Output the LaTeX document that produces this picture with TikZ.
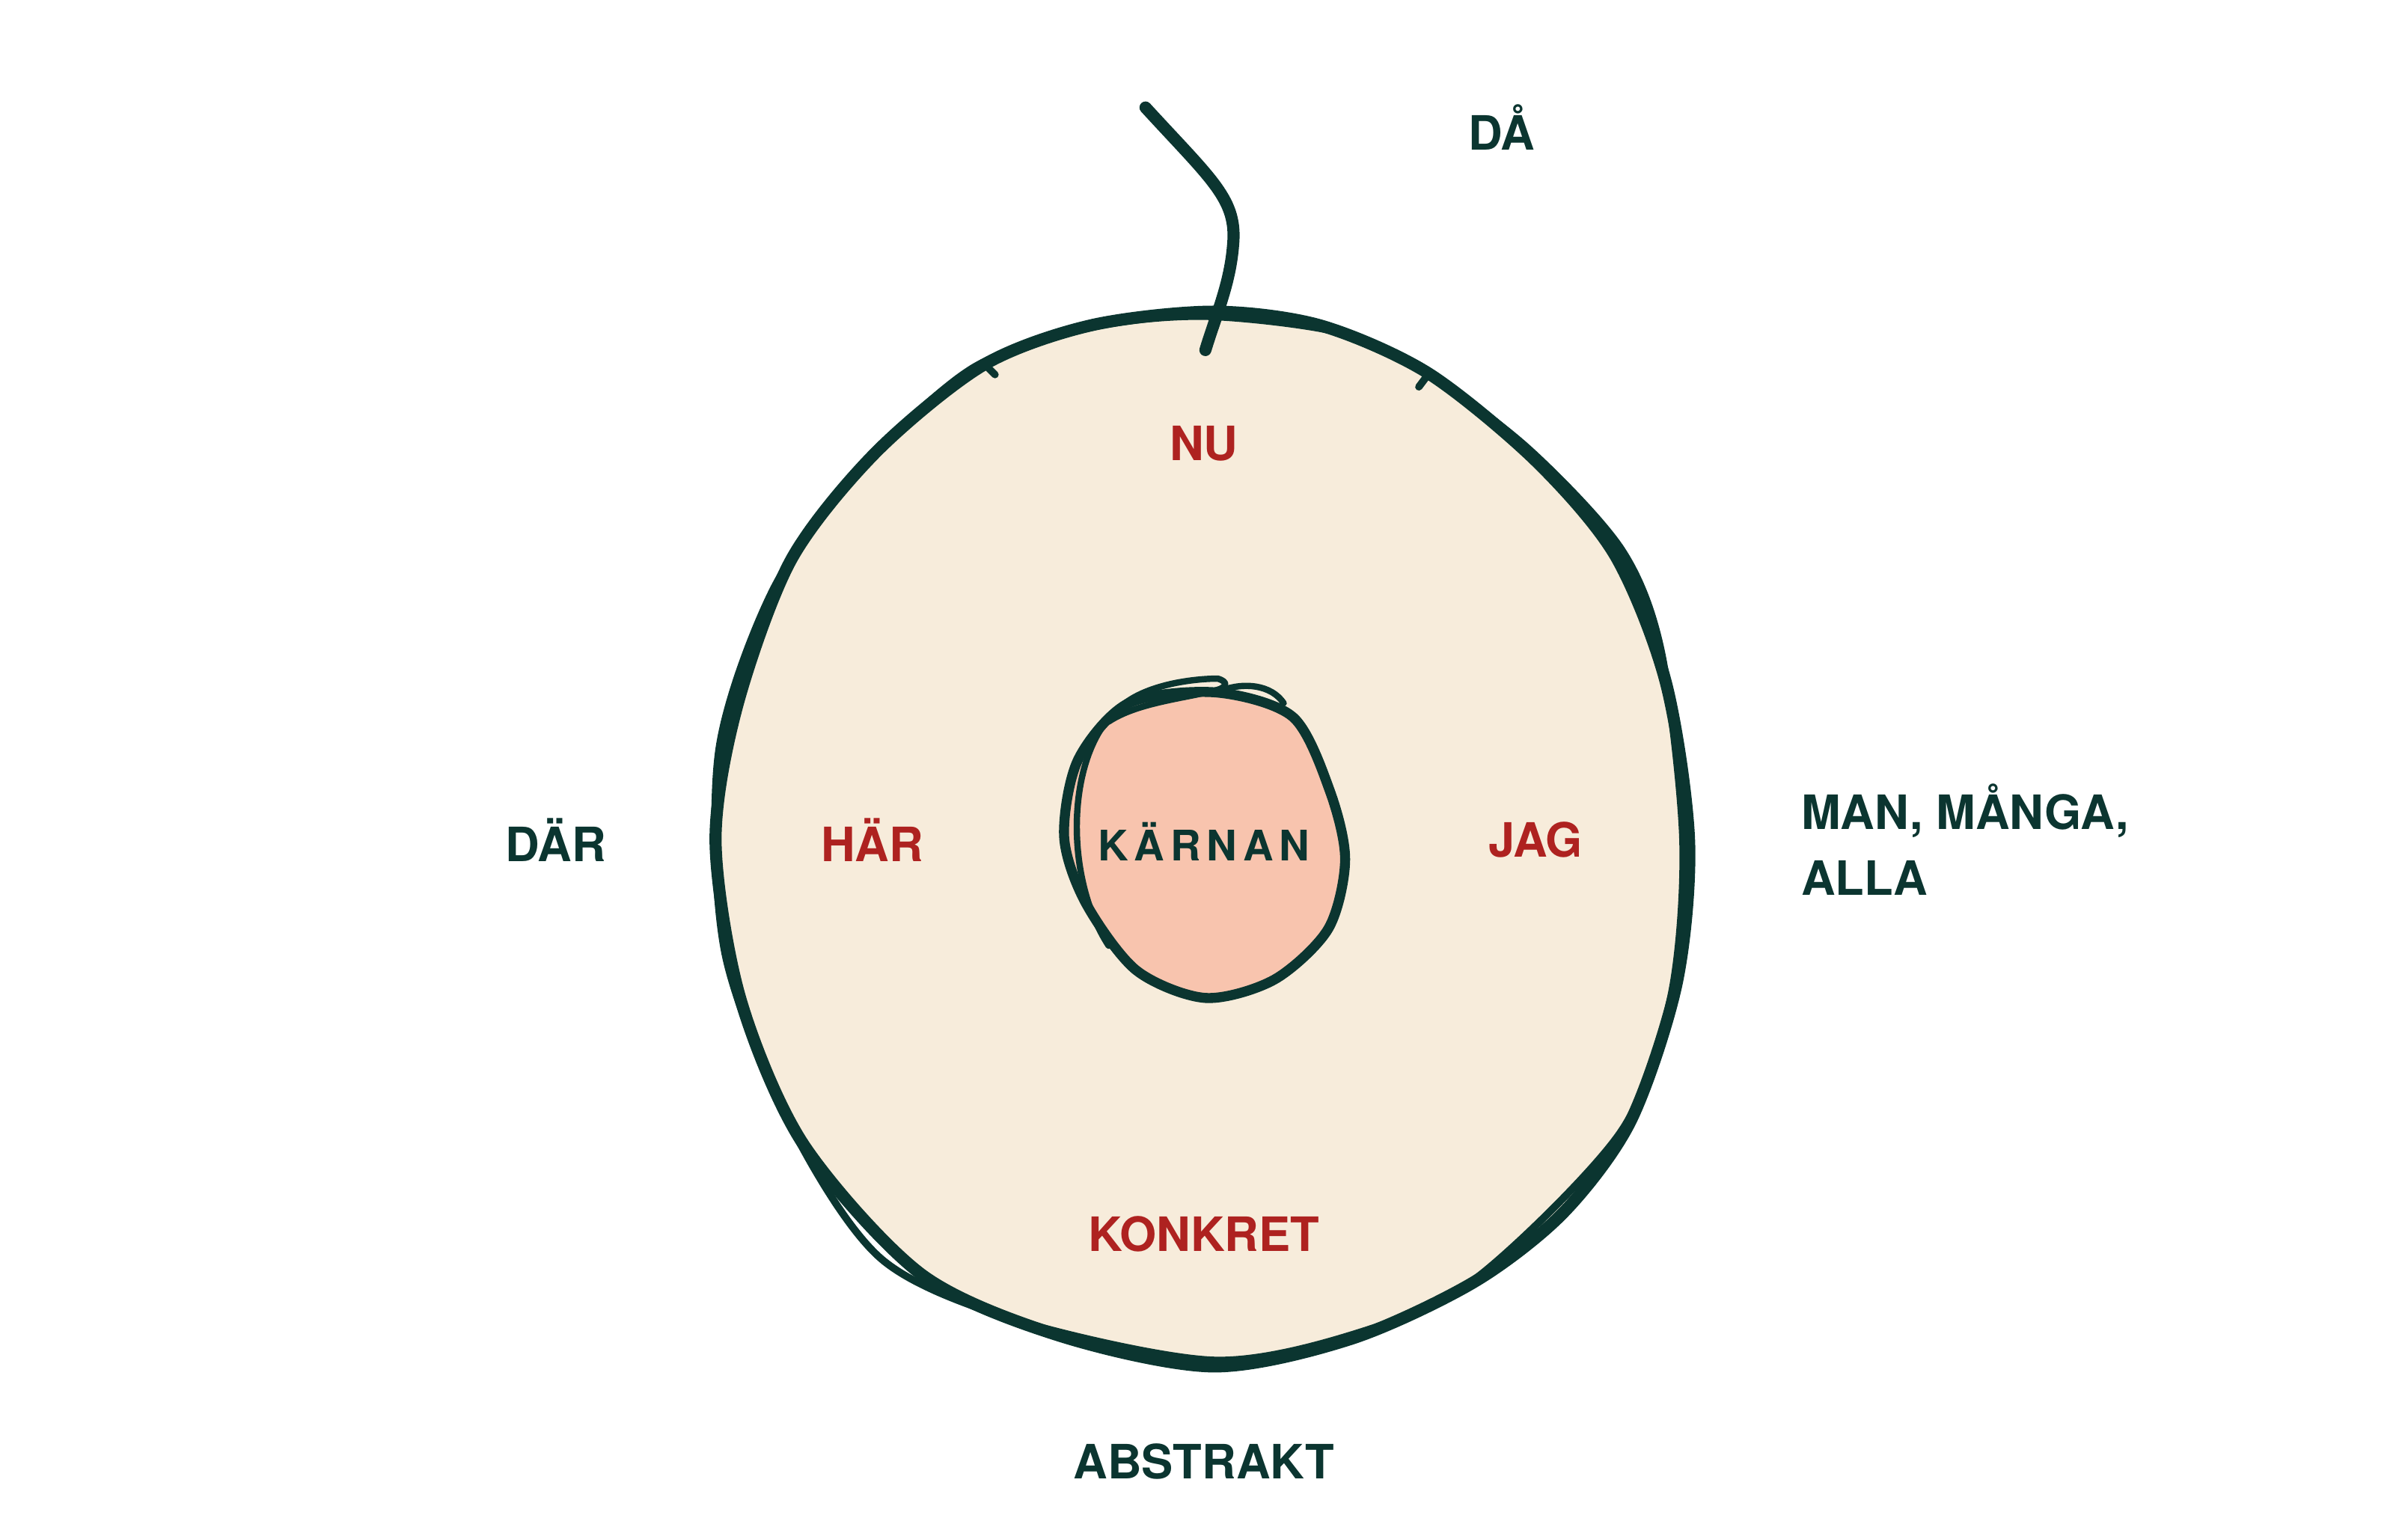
\documentclass[tikz,border=0pt]{standalone}
\usepackage{fontspec}
\setmainfont{TeX Gyre Heros}
\usetikzlibrary{positioning}
\definecolor{ink}{HTML}{0B3530}
\definecolor{rust}{HTML}{AE2220}
\definecolor{cream}{HTML}{F7ECDB}
\definecolor{peach}{HTML}{F8C4AE}
\tikzstyle{rim}=[draw=ink, line width=4.6pt, line join=round, line cap=round]
\tikzstyle{sketch}=[draw=ink, line width=2.8pt, line join=round, line cap=round]
\tikzstyle{outside}=[text=ink, font=\bfseries\fontsize{18}{25}\selectfont]
\tikzstyle{inside}=[text=rust, font=\bfseries\fontsize{18}{25}\selectfont]
\tikzstyle{core}=[text=ink, font=\addfontfeatures{LetterSpace=14}\bfseries\fontsize{16}{20}\selectfont]

\begin{document}
\begin{tikzpicture}[x=0.2052mm, y=-0.2052mm]
    \useasboundingbox (0,0) rectangle (1568.2,1000);

    % outer ring
    \fill[cream] plot[smooth cycle] coordinates {(790,203) (860,212) (930,243) (1000,300) (1052,362) (1085,445) (1100,548) (1092,640) (1062,730) (1018,790) (960,835) (880,872) (790,890) (690,870) (600,830) (523,745) (482,650) (466,548) (480,460) (515,365) (570,295) (640,238) (710,212)};
    \draw[rim] plot[smooth cycle] coordinates {(790,203) (860,212) (930,243) (1000,300) (1052,362) (1085,445) (1100,548) (1092,640) (1062,730) (1018,790) (960,835) (880,872) (790,890) (690,870) (600,830) (523,745) (482,650) (466,548) (480,460) (515,365) (570,295) (640,238) (710,212)};
    \draw[sketch] plot[smooth cycle] coordinates {(785,206) (870,216) (925,240) (995,292) (1056,358) (1082,425) (1096,548) (1088,650) (1055,738) (962,832) (885,868) (790,886) (662,860) (574,820) (516,735) (472,620) (468,490) (503,385) (558,308) (633,240) (712,213)};
    \draw[sketch] (640,236) -- (648,244);
    \draw[sketch] (924,252) -- (930,244);

    % core
    \fill[peach] plot[smooth cycle] coordinates {(790,450) (840,465) (866,515) (877,560) (866,605) (830,638) (785,650) (742,633) (708,590) (692,545) (702,495) (735,458)};
    \draw[rim, line width=3.8pt] plot[smooth cycle] coordinates {(792,451) (842,467) (866,515) (876,560) (865,605) (830,638) (785,650) (740,632) (707,588) (693,545) (702,495) (735,458)};
    \draw[sketch, line width=2.4pt] (722,616) .. controls (692,570) and (695,490) .. (728,462) .. controls (745,445) and (780,442) .. (793,442) .. controls (800,444) and (800,448) .. (790,450) .. controls (770,455) and (740,458) .. (722,470);
    \draw[sketch, line width=2.4pt] (795,450) .. controls (810,444) and (828,446) .. (836,458);

    % time line
    \coordinate (then) at (746,70);
    \coordinate (now) at (785,228);
    \draw[rim] (then) .. controls (790,118) and (806,130) .. (803,160) .. controls (801,185) and (792,205) .. (now);

    % labels
    \node[core] (karnan) at (784,548) {KÄRNAN};
    \node[inside] (nu) at (784,289) {NU};
    \node[inside] (har) at (568,547) {HÄR};
    \node[inside] (jag) at (1000,547) {JAG};
    \node[inside] (konkret) at (784,804) {KONKRET};
    \node[outside] (da) at (978,83) {DÅ};
    \node[outside] (dar) at (362,547) {DÄR};
    \node[outside, anchor=west, align=left] (many) at (1167,547) {MAN, MÅNGA,\\ALLA};
    \node[outside] (abstrakt) at (784,952) {ABSTRAKT};
\end{tikzpicture}
\end{document}
